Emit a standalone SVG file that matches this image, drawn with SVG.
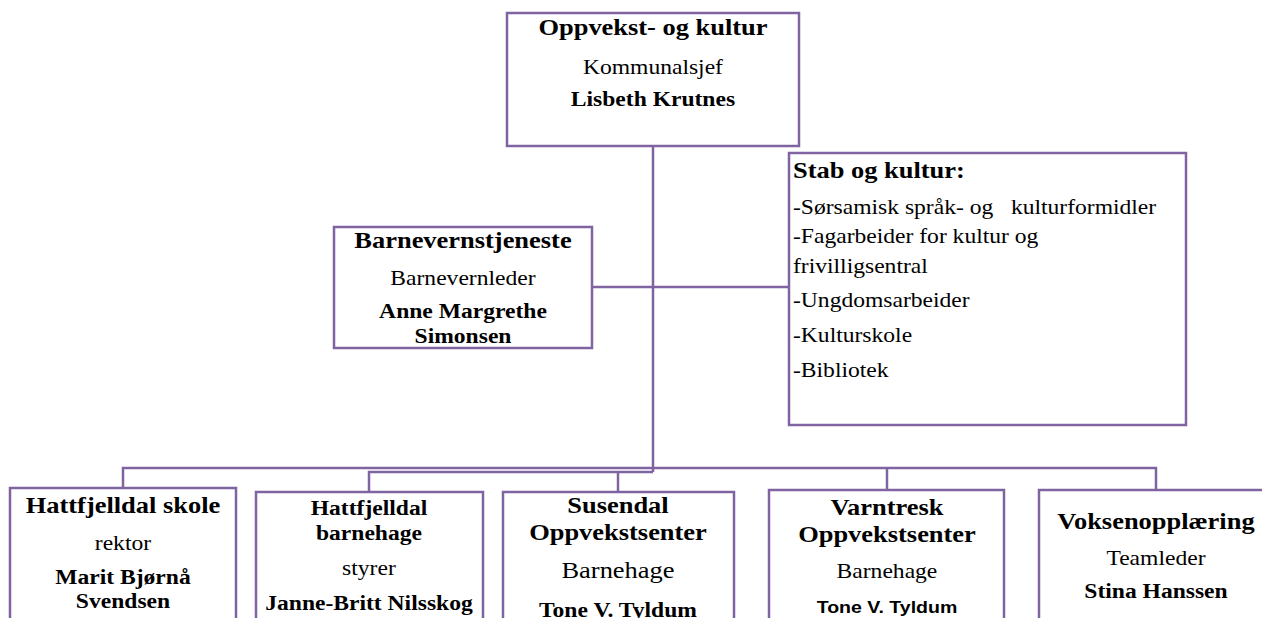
<svg xmlns="http://www.w3.org/2000/svg" width="1262" height="618" viewBox="0 0 1262 618">
<style>
.box{fill:#fff;stroke:#8064A2;stroke-width:2.5}
.con{fill:none;stroke:#8064A2;stroke-width:2.5}
text{font-family:"Liberation Serif","Times New Roman",serif;fill:#000;transform-box:fill-box;transform-origin:center;transform:scaleX(1.15)}
.c{text-anchor:middle}
.l{transform-origin:left center}
.h{font-weight:bold;font-size:23px}
.r{font-size:20.5px}
.b{font-weight:bold;font-size:20.5px}
.rb{font-size:23px}
.s{font-family:"Liberation Sans",Arial,sans-serif;font-weight:bold;font-size:17px}
</style>
<rect width="1262" height="618" fill="#fff"/>
<g id="connectors">
<path class="con" d="M653 146V472"/>
<path class="con" d="M592 287H789"/>
<path class="con" d="M123 488V468H1156V490"/>
<path class="con" d="M369 492V472H653"/>
<path class="con" d="M618 472V492"/>
<path class="con" d="M887 468V490"/>
</g>
<g id="top">
<rect class="box" x="507" y="13" width="292" height="133"/>
<text class="c h" x="653" y="35">Oppvekst- og kultur</text>
<text class="c r" x="653" y="74">Kommunalsjef</text>
<text class="c b" x="653" y="106">Lisbeth Krutnes</text>
</g>
<g id="barnevern">
<rect class="box" x="334" y="227" width="258" height="121"/>
<text class="c h" x="463" y="248">Barnevernstjeneste</text>
<text class="c r" x="463" y="285">Barnevernleder</text>
<text class="c b" x="463" y="318">Anne Margrethe</text>
<text class="c b" x="463" y="343">Simonsen</text>
</g>
<g id="stab">
<rect class="box" x="789" y="153" width="397" height="272"/>
<text class="l h" x="793" y="178">Stab og kultur:</text>
<text class="l r" x="793" y="214" xml:space="preserve">-Sørsamisk språk- og   kulturformidler</text>
<text class="l r" x="793" y="243">-Fagarbeider for kultur og</text>
<text class="l r" x="793" y="273">frivilligsentral</text>
<text class="l r" x="793" y="307">-Ungdomsarbeider</text>
<text class="l r" x="793" y="342">-Kulturskole</text>
<text class="l r" x="793" y="377">-Bibliotek</text>
</g>
<g id="skole">
<rect class="box" x="10" y="488" width="226" height="140"/>
<text class="c h" x="123" y="513">Hattfjelldal skole</text>
<text class="c r" x="123" y="550">rektor</text>
<text class="c b" x="123" y="584">Marit Bjørnå</text>
<text class="c b" x="123" y="608">Svendsen</text>
</g>
<g id="barnehage">
<rect class="box" x="256" y="492" width="227" height="136"/>
<text class="c b" x="369" y="515">Hattfjelldal</text>
<text class="c b" x="369" y="540">barnehage</text>
<text class="c r" x="369" y="575">styrer</text>
<text class="c b" x="369" y="610">Janne-Britt Nilsskog</text>
</g>
<g id="susendal">
<rect class="box" x="503" y="492" width="231" height="136"/>
<text class="c h" x="618" y="513">Susendal</text>
<text class="c h" x="618" y="540">Oppvekstsenter</text>
<text class="c rb" x="618" y="578">Barnehage</text>
<text class="c b" x="618" y="617">Tone V. Tyldum</text>
</g>
<g id="varntresk">
<rect class="box" x="769" y="490" width="235" height="138"/>
<text class="c h" x="887" y="515">Varntresk</text>
<text class="c h" x="887" y="542">Oppvekstsenter</text>
<text class="c r" x="887" y="578">Barnehage</text>
<text class="c s" x="887" y="613">Tone V. Tyldum</text>
</g>
<g id="voksen">
<rect class="box" x="1039" y="490" width="240" height="138"/>
<text class="c h" x="1156" y="529">Voksenopplæring</text>
<text class="c r" x="1156" y="565">Teamleder</text>
<text class="c b" x="1156" y="598">Stina Hanssen</text>
</g>
</svg>
